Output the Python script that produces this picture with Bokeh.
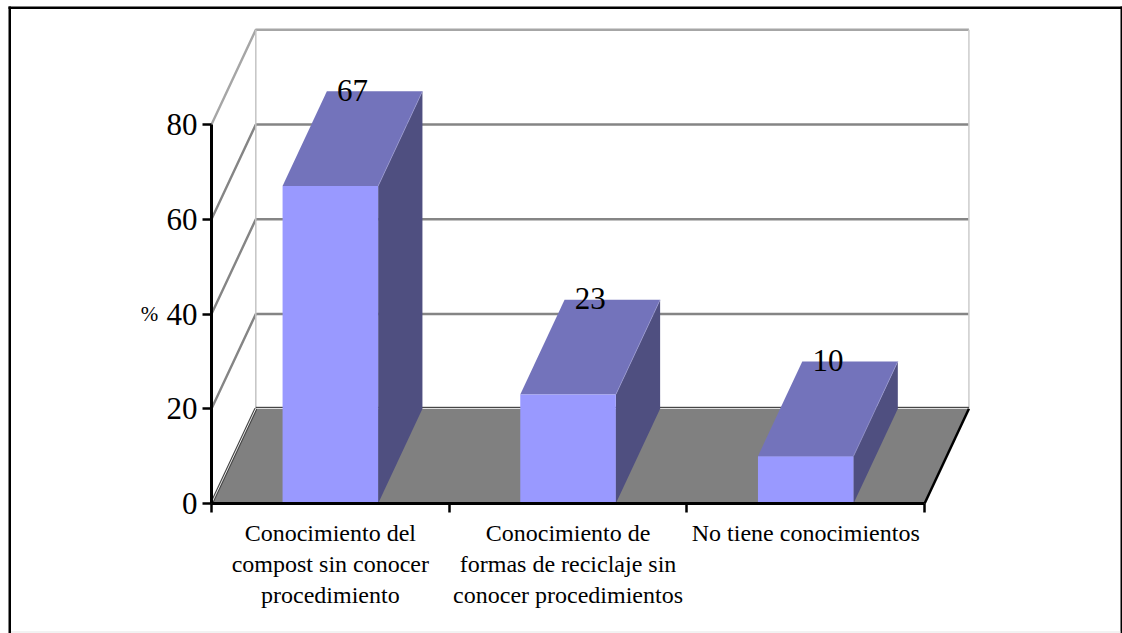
from bokeh.core.properties import value
from bokeh.embed import file_html
from bokeh.models import FixedTicker, Range1d
from bokeh.plotting import figure
from bokeh.resources import INLINE

# Chart values
categories = [
    ["Conocimiento del", "compost sin conocer", "procedimiento"],
    ["Conocimiento de", "formas de reciclaje sin", "conocer procedimientos"],
    ["No tiene conocimientos"],
]
values = [67, 23, 10]
y_ticks = [0, 20, 40, 60, 80]
axis_label = "%"

# Pseudo-3D depth, expressed in data units of each axis
DX = 0.1864
DZ = 20.0
BAR_W = 0.402
FONT = "Liberation Serif"

W, H = 1122, 633
ORIGIN_X, ORIGIN_Y = 211, 503
X_UNIT = 237.7
Y_UNIT = 4.7375


def data_x(px):
    return (px - ORIGIN_X) / X_UNIT


def data_y(px):
    return (ORIGIN_Y - px) / Y_UNIT


p = figure(
    width=W, height=H, output_backend="svg", toolbar_location=None,
    min_border_left=0, min_border_bottom=0, min_border_top=0, min_border_right=0,
    x_range=Range1d(data_x(0), data_x(W)),
    y_range=Range1d(data_y(H), data_y(0)),
)
p.grid.visible = False
p.outline_line_color = None
p.background_fill_color = "white"
p.border_fill_color = "white"

# Back wall and side wall grid lines
top = y_ticks[-1]
for v in y_ticks[1:]:
    colour = "#a6a6a6" if v == top else "#858585"
    p.line([0, DX, 3 + DX], [v, v + DZ, v + DZ], line_color=colour, line_width=2.4)
p.line([DX, DX], [DZ, top + DZ], line_color="#c4c4c4", line_width=1.5)
p.line([3 + DX, 3 + DX], [DZ, top + DZ], line_color="#cccccc", line_width=1.5)

# Floor
p.patch([0, 3, 3 + DX, DX], [0, 0, DZ, DZ], fill_color="#808080", line_color=None)
p.line([DX, 3 + DX], [DZ + 0.3, DZ + 0.3], line_color="#222222", line_width=1)
p.line([0, DX], [0, DZ], line_color="#444444", line_width=3)
p.line([0, DX], [0, DZ], line_color="#e8e8e8", line_width=1)
p.line([3, 3 + DX], [0, DZ], line_color="black", line_width=2.5)

# Bars: side, top and front faces
for i, v in enumerate(values):
    x0 = i + 0.5 - BAR_W / 2
    x1 = i + 0.5 + BAR_W / 2
    p.patch([x1, x1 + DX, x1 + DX, x1], [0, DZ, v + DZ, v], fill_color="#4f4f80", line_color=None)
    p.patch([x0, x1, x1 + DX, x0 + DX], [v, v, v + DZ, v + DZ], fill_color="#7373bb", line_color=None)
    p.line([x1, x1 + DX], [v, v + DZ], line_color="#9a9ad0", line_width=0.7)
    p.vbar(x=[i + 0.5], top=[v], bottom=[0], width=BAR_W, fill_color="#9999ff", line_color=None)

# Value labels on the top faces
p.text(
    x=[i + 0.5 + DX / 2 for i in range(len(values))],
    y=[v + DZ for v in values],
    text=[str(v) for v in values],
    text_font=value(FONT), text_font_size=value("31px"),
    text_align="center", text_baseline="middle", text_color="black",
    y_offset=-1,
)

# Axes sit inside the full-page frame, pinned at the data origin
xa = p.xaxis[0]
xa.fixed_location = 0
xa.ticker = FixedTicker(ticks=[0, 1, 2, 3])
xa.bounds = (0, 3)
xa.major_label_text_font_size = "0px"
xa.major_label_text_color = None
xa.major_tick_in = 0
xa.major_tick_out = 9
xa.minor_tick_line_color = None
xa.axis_line_width = 3
xa.major_tick_line_width = 2.5
xa.axis_line_color = "black"
xa.major_tick_line_color = "black"

ya = p.yaxis[0]
ya.fixed_location = 0
ya.ticker = FixedTicker(ticks=y_ticks)
ya.bounds = (0, top)
ya.major_tick_in = 0
ya.major_tick_out = 9
ya.minor_tick_line_color = None
ya.axis_line_width = 3
ya.major_tick_line_width = 2.5
ya.axis_line_color = "black"
ya.major_tick_line_color = "black"
ya.major_label_text_font = FONT
ya.major_label_text_font_size = "31px"
ya.major_label_text_color = "black"
ya.major_label_standoff = 5

# Category captions below the axis, one text per line
cap_x, cap_y, cap_text = [], [], []
for i, lines in enumerate(categories):
    for j, line in enumerate(lines):
        cap_x.append(i + 0.5)
        cap_y.append(data_y(532 + 31 * j))
        cap_text.append(line)
p.text(
    x=cap_x, y=cap_y, text=cap_text,
    text_font=value(FONT), text_font_size=value("24px"),
    text_align="center", text_baseline="middle", text_color="black",
)

p.text(
    x=[data_x(149)], y=[40], text=[axis_label],
    text_font=value(FONT), text_font_size=value("21px"),
    text_align="center", text_baseline="middle", text_color="black",
)

# Outer frame of the chart
for l, r, t, b, c in [
    (8, 1122, 6, 8.5, "black"),
    (8, 10.5, 6, 633, "black"),
    (1120, 1122, 6, 633, "black"),
    (10.5, 1120, 631, 632, "#e6e6e6"),
]:
    p.quad(left=[data_x(l)], right=[data_x(r)], top=[data_y(t)], bottom=[data_y(b)],
           fill_color=c, line_color=None)

open("out.html", "w").write(file_html(p, INLINE))
